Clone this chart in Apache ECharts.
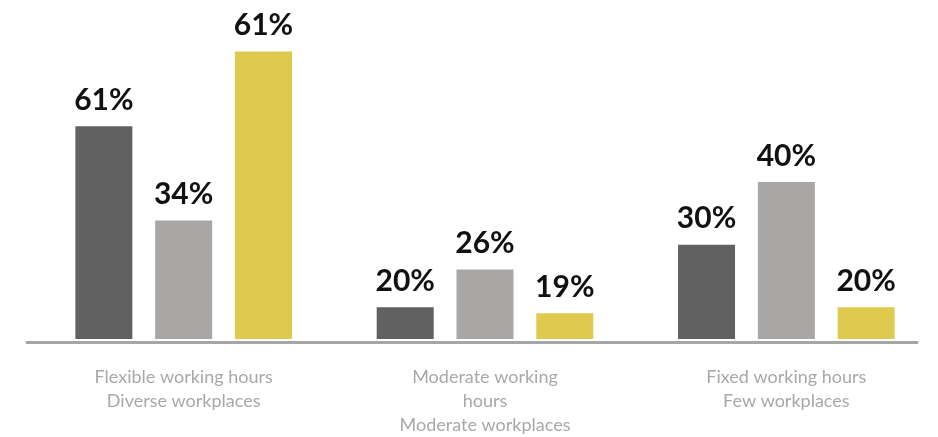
<!DOCTYPE html>
<html lang="en">
<head>
    <meta charset="UTF-8">
    <title>Working hours and workplaces</title>
    <script type="text/javascript" src="https://cdn.jsdelivr.net/npm/echarts@6/dist/echarts.min.js"></script>
    <style>
        html, body { margin: 0; padding: 0; background: #fff; }
    </style>
</head>
<body>
<div id="main" style="width: 938px; height: 437px;"></div>

<script>
    // categories (x axis)
    var categories = [
        'Flexible working hours\nDiverse workplaces',
        'Moderate working\nhours\nModerate workplaces',
        'Fixed working hours\nFew workplaces'
    ];

    // bar heights as drawn in the picture
    var darkValues = [61, 9.1, 27];
    var greyValues = [34, 19.9, 45];
    var yellowValues = [82.4, 7.4, 9.1];

    // labels printed above the bars
    var darkLabels = ['61%', '20%', '30%'];
    var greyLabels = ['34%', '26%', '40%'];
    var yellowLabels = ['61%', '19%', '20%'];

    var myChart = echarts.init(document.getElementById('main'));

    function labelFor(texts) {
        return {
            show: true,
            position: 'top',
            distance: 11,
            color: '#111',
            fontFamily: 'Lato',
            fontWeight: 'bold',
            fontSize: 30,
            formatter: function (p) {
                return texts[p.dataIndex];
            }
        };
    }

    var option = {
        backgroundColor: '#fff',
        animation: false,
        grid: [
            {left: 33, right: 1, top: 25, bottom: 95.5},
            // only used for the base line, which is shorter than the plot
            {left: 27, right: 21, top: 25, bottom: 94.5}
        ],
        xAxis: [{
            type: 'category',
            gridIndex: 0,
            data: categories,
            axisLine: {show: false},
            axisTick: {show: false},
            axisLabel: {
                margin: 26,
                color: '#a8a8a8',
                fontFamily: 'Lato',
                fontSize: 18,
                lineHeight: 24
            }
        }, {
            type: 'category',
            gridIndex: 1,
            data: [''],
            axisLine: {show: true, lineStyle: {color: '#a6a6a6', width: 3}},
            axisTick: {show: false},
            axisLabel: {show: false}
        }],
        yAxis: [{
            type: 'value',
            gridIndex: 0,
            min: 0,
            max: 90,
            show: false
        }, {
            type: 'value',
            gridIndex: 1,
            show: false
        }],
        series: [{
            type: 'bar',
            barWidth: 57,
            barGap: '40%',
            itemStyle: {color: '#616161'},
            label: labelFor(darkLabels),
            data: darkValues
        }, {
            type: 'bar',
            barWidth: 57,
            barGap: '40%',
            itemStyle: {color: '#a8a7a5'},
            label: labelFor(greyLabels),
            data: greyValues
        }, {
            type: 'bar',
            barWidth: 57,
            barGap: '40%',
            itemStyle: {color: '#dfc94e'},
            label: labelFor(yellowLabels),
            data: yellowValues
        }]
    };

    myChart.setOption(option);
</script>
</body>
</html>
